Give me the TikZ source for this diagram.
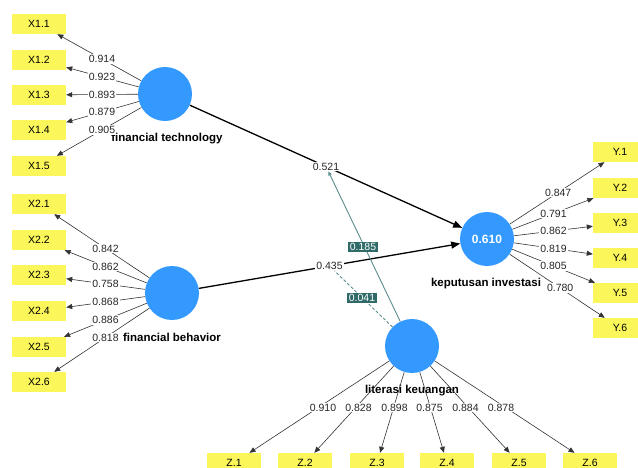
\documentclass[tikz,border=0pt]{standalone}
\usepackage{fontspec}
\setmainfont{Liberation Sans}
\usetikzlibrary{arrows.meta,calc}
\definecolor{lvblue}{HTML}{3399FF}
\definecolor{indyel}{HTML}{FBF75A}
\definecolor{modline}{HTML}{5A8C8C}
\definecolor{modfill}{HTML}{2F6A69}
\tikzset{
  lv/.style={circle,fill=lvblue,minimum size=54pt,inner sep=0pt,font=\fontsize{12}{14}\selectfont\bfseries,text=white},
  ind/.style={rectangle,fill=indyel,minimum width=54pt,minimum height=20pt,inner sep=0pt,font=\fontsize{10.5}{12}\selectfont},
  lvname/.style={font=\fontsize{11.5}{14}\selectfont\bfseries,inner sep=1pt},
  load/.style={draw=black!80,line width=0.6pt,-{Triangle[length=6pt,width=5pt]}},
  path/.style={draw=black,line width=1.3pt,-{Triangle[length=9pt,width=7pt]}},
  lbl/.style={fill=white,inner sep=1pt,font=\fontsize{10.5}{12}\selectfont,text=black!85},
  modlbl/.style={fill=modfill,text=white,inner sep=1.5pt,font=\fontsize{10.5}{12}\selectfont},
  modl/.style={draw=modline,line width=0.9pt}
}
\begin{document}
\begin{tikzpicture}[x=1pt,y=-1pt]
\useasboundingbox (0,0) rectangle (638,468);
% latent variables
\node[lv] (ft) at (165,94) {};
\node[lv] (fb) at (172,293) {};
\node[lv] (ki) at (487,239) {0.610};
\node[lv] (lk) at (412,346) {};
% indicators
\foreach \i/\y in {1/24,2/60,3/95,4/130,5/166} \node[ind] (xa\i) at (39,\y) {X1.\i};
\foreach \i/\y in {1/204,2/240,3/275,4/311,5/347,6/382} \node[ind] (xb\i) at (39,\y) {X2.\i};
\foreach \i/\y in {1/152,2/188,3/223,4/258,5/293,6/328} \node[ind] (y\i) at (620,\y) {Y.\i};
\foreach \i/\x in {1/234,2/305,3/377,4/447,5/519,6/590} \node[ind] (z\i) at (\x,463) {Z.\i};
% names
\node[lvname] (nft) at (167,139) {financial technology};
\node[lvname] (nfb) at (172,337) {financial behavior};
\node[lvname] (nki) at (486,284) {keputusan investasi};
\node[lvname] (nlk) at (412,391) {literasi keuangan};
% loadings
\foreach \i/\v in {1/0.914,2/0.923,3/0.893,4/0.879,5/0.905}{
  \draw[load] (ft) -- (xa\i);
  \node[lbl] at ($(ft)!0.5!(xa\i)$) {\v};
}
\foreach \i/\v in {1/0.842,2/0.862,3/0.758,4/0.868,5/0.886,6/0.818}{
  \draw[load] (fb) -- (xb\i);
  \node[lbl] at ($(fb)!0.5!(xb\i)$) {\v};
}
\foreach \i/\v/\p in {1/0.847/0.535,2/0.791/0.5,3/0.862/0.5,4/0.819/0.5,5/0.805/0.5,6/0.780/0.55}{
  \draw[load] (ki) -- (y\i);
  \node[lbl] at ($(ki)!\p!(y\i)$) {\v};
}
\foreach \i/\v in {1/0.910,2/0.828,3/0.898,4/0.875,5/0.884,6/0.878}{
  \draw[load] (lk) -- (z\i);
  \node[lbl] at ($(lk)!0.5!(z\i)+(0,3)$) {\v};
}
% structural paths
\draw[path] (ft) -- (ki);
\draw[path] (fb) -- (ki);
\node[lbl] (l521) at ($(ft)!0.5!(ki)$) {0.521};
\node[lbl] (l435) at ($(fb)!0.5!(ki)$) {0.435};
% moderating effects
\draw[modl,-{Triangle[length=4pt,width=3.5pt]}] (lk) -- (l521);
\draw[modl,dashed,dash pattern=on 3pt off 2pt] (lk) -- (l435);
\node[modlbl] at (363,247) {0.185};
\node[modlbl] at (362,298) {0.041};
\end{tikzpicture}
\end{document}
